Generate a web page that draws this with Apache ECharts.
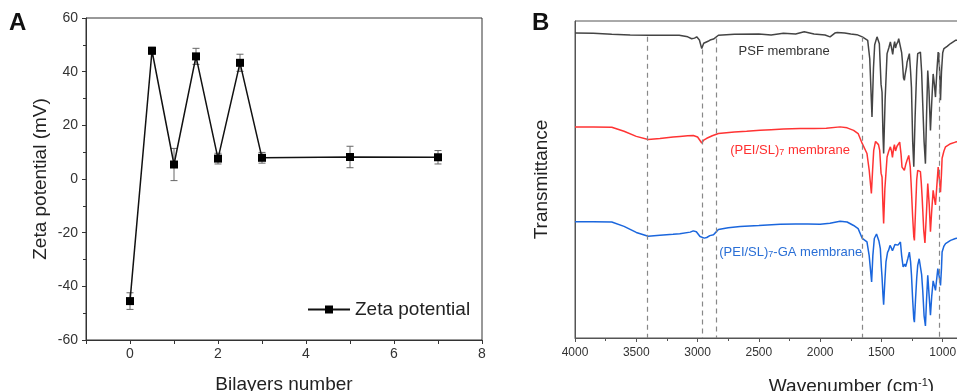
<!DOCTYPE html>
<html>
<head>
<meta charset="utf-8">
<script src="https://cdn.jsdelivr.net/npm/echarts@6/dist/echarts.min.js"></script>
<style>
    html, body { margin: 0; padding: 0; background: #fff; }
    #chart { width: 957px; height: 391px; }
</style>
</head>
<body>
<div id="chart"></div>
<script>
// ---- Panel A: zeta potential vs bilayer number ----
const bilayers = [0, 0.5, 1, 1.5, 2, 2.5, 3, 5, 7];
const zeta = [-45.5, 47.8, 5.4, 45.7, 7.6, 43.3, 7.9, 8.2, 8.1];
const zetaErr = [3.1, 1.3, 6, 3, 2, 3.2, 2, 4, 2.5];

// ---- Panel B: FTIR spectra, [wavenumber, transmittance (a.u.)] ----
const psfSpectrum = [
    [4000, 96.2], [3850, 96.1], [3700, 95.8], [3550, 95.6], [3400, 95.5], [3250, 95.5], [3150, 95.5],
    [3080, 95.0], [3048, 94.4], [3025, 94.6], [3007, 95.0], [2985, 94.0], [2966, 91.3], [2950, 93.0],
    [2939, 93.4], [2915, 93.6], [2898, 94.0], [2870, 94.3], [2857, 94.6], [2830, 95.5], [2700, 95.8],
    [2500, 95.9], [2400, 95.6], [2300, 96.1], [2200, 95.9], [2130, 96.6], [2050, 95.9], [1960, 95.6],
    [1919, 95.0], [1880, 96.2], [1860, 96.4], [1800, 96.2], [1750, 95.9], [1700, 95.7], [1656, 95.0],
    [1612, 93.9], [1595, 88], [1577, 69.7], [1565, 85], [1555, 92.5], [1536, 95.0], [1517, 92.8],
    [1503, 80], [1495, 77.6], [1488, 65], [1482, 58.2], [1470, 75], [1454, 89.7], [1440, 91.5],
    [1427, 93.4], [1415, 91], [1408, 89.5], [1400, 92], [1392, 93.5], [1385, 91.5], [1378, 92.5],
    [1365, 93.5], [1359, 94.4], [1345, 95.0], [1335, 90], [1329, 87.4], [1320, 82], [1313, 81.3],
    [1307, 83], [1302, 82.5], [1295, 85.5], [1291, 87], [1272, 89.7], [1262, 84], [1255, 79],
    [1245, 62], [1236, 54], [1225, 70], [1212, 85], [1204, 89.7], [1190, 90.3], [1182, 90.2],
    [1172, 84], [1163, 73.9], [1152, 62], [1141, 55], [1132, 70], [1122, 84.4], [1112, 78],
    [1100, 65.5], [1090, 74], [1078, 83.3], [1068, 80], [1059, 76], [1048, 84], [1037, 90.2],
    [1027, 86], [1018, 75], [1010, 84], [1000, 90], [990, 91.3], [964, 92], [936, 92.9],
    [896, 93.9], [870, 94]
];
const peiSpectrum = [
    [4000, 66.6], [3850, 66.6], [3700, 66.5], [3600, 65.2], [3500, 63.6], [3403, 62.6], [3307, 62.9],
    [3200, 63.4], [3145, 63.6], [3080, 63.8], [3035, 63.9], [3000, 63.4], [2980, 62.3], [2966, 61.5],
    [2950, 62.4], [2925, 63.0], [2880, 63.8], [2830, 64.5], [2700, 65.0], [2600, 65.2], [2490, 65.5],
    [2400, 65.7], [2300, 65.9], [2163, 66.1], [2050, 66.1], [1950, 66.2], [1837, 66.6], [1780, 66.3],
    [1727, 65.5], [1690, 64.5], [1656, 61.3], [1618, 58.2], [1600, 53], [1582, 45.6], [1572, 53],
    [1563, 59.2], [1548, 62.0], [1536, 62.4], [1524, 61], [1514, 59.2], [1503, 52], [1495, 50.8],
    [1488, 42], [1482, 36.1], [1472, 47], [1454, 57.1], [1440, 59], [1427, 60.3], [1418, 59],
    [1410, 57], [1400, 60], [1394, 61.0], [1385, 59], [1373, 60.5], [1362, 61], [1351, 61.8],
    [1340, 58], [1332, 53.9], [1320, 54], [1313, 52.9], [1300, 55], [1291, 56.1], [1277, 57.6],
    [1265, 54], [1258, 49], [1245, 38], [1236, 32], [1231, 30.8], [1222, 40], [1212, 50],
    [1204, 52.9], [1190, 53.5], [1182, 52.5], [1175, 49], [1168, 44.5], [1155, 34], [1145, 30],
    [1141, 29.8], [1132, 40], [1122, 48.7], [1110, 42], [1100, 33.5], [1090, 40], [1078, 46.6],
    [1068, 44], [1059, 42], [1048, 48], [1037, 53.9], [1027, 50], [1018, 46], [1010, 52],
    [1005, 56.7], [990, 59], [977, 60.3], [936, 61.3], [896, 61.8], [870, 62]
];
const gaSpectrum = [
    [4000, 36.7], [3850, 36.7], [3700, 36.6], [3600, 35.2], [3500, 33.3], [3403, 32.1], [3307, 32.4],
    [3200, 32.7], [3145, 32.9], [3060, 33.4], [3035, 33.8], [3010, 33.5], [3000, 33.2], [2980, 32.0],
    [2966, 31.4], [2945, 31.5], [2925, 31.7], [2900, 32.3], [2870, 32.6], [2850, 33.4], [2830, 34.2],
    [2750, 34.8], [2653, 35.2], [2500, 35.5], [2326, 35.9], [2200, 36.0], [2100, 36.0], [2000, 35.9],
    [1920, 36.2], [1837, 36.8], [1780, 36.6], [1727, 35.5], [1690, 34.5], [1656, 31.4], [1618, 30.3],
    [1600, 26], [1580, 17.7], [1570, 26], [1558, 31.4], [1540, 32.8], [1531, 32.6], [1520, 30.5],
    [1509, 28.2], [1500, 22], [1495, 19.2], [1488, 14], [1482, 10.5], [1472, 18], [1463, 24],
    [1450, 27], [1441, 27.7], [1430, 29.2], [1420, 28.5], [1410, 27.5], [1400, 28.5], [1390, 29.5],
    [1378, 29.8], [1365, 29.3], [1359, 29.2], [1345, 30.3], [1335, 26], [1323, 22.4], [1316, 23],
    [1310, 23.3], [1302, 22.5], [1296, 21.9], [1285, 25], [1272, 27.1], [1262, 24], [1255, 20],
    [1245, 12], [1236, 6], [1231, 5], [1222, 12], [1212, 19], [1204, 22.9], [1192, 25],
    [1182, 25], [1172, 20], [1163, 15], [1152, 7], [1141, 3.8], [1132, 12], [1122, 19.8],
    [1112, 14], [1100, 7.2], [1090, 13], [1078, 18], [1068, 16.5], [1059, 15], [1048, 19],
    [1040, 21.9], [1027, 19], [1018, 16.6], [1010, 22], [1005, 27.1], [990, 29], [977, 29.8],
    [936, 30.8], [896, 31.4], [870, 31.6]
];
// dashed band guides (wavenumber, top of the dash)
const bandLines = [3410, 2962, 2850, 1653, 1030];
const bandTops = [95, 91, 94.5, 95, 90];

const FONT = '"Liberation Sans", Arial, sans-serif';

const chart = echarts.init(document.getElementById('chart'), null, { renderer: 'canvas' });

const option = {
    animation: false,
    backgroundColor: '#fff',
    textStyle: { fontFamily: FONT },
    title: [
        { text: 'A', left: 9, top: 11, padding: 0, textStyle: { fontSize: 24, fontWeight: 'bold', color: '#111', fontFamily: FONT } },
        { text: 'B', left: 532, top: 11, padding: 0, textStyle: { fontSize: 24, fontWeight: 'bold', color: '#111', fontFamily: FONT } }
    ],
    legend: {
        data: ['Zeta potential'],
        left: 302, top: 295,
        itemWidth: 42, itemHeight: 10,
        textStyle: { fontSize: 19, color: '#222', fontFamily: FONT }
    },
    grid: [
        { left: 86, right: 475, top: 18, bottom: 51, show: true, borderColor: '#333', borderWidth: 1, outerBoundsMode: 'none', containLabel: false },
        { left: 575, right: -47, top: 21, bottom: 53, show: true, borderColor: '#555', borderWidth: 1, outerBoundsMode: 'none', containLabel: false }
    ],
    xAxis: [
        {
            type: 'value', gridIndex: 0, min: -1, max: 8, interval: 1,
            name: 'Bilayers number', nameLocation: 'middle', nameGap: 35,
            nameTextStyle: { fontSize: 19, color: '#222', fontFamily: FONT },
            axisLine: { show: true, onZero: false, lineStyle: { color: '#333', width: 1 } },
            axisTick: { show: true, inside: false, length: 4, lineStyle: { color: '#333' } },
            axisLabel: {
                fontSize: 14, color: '#333', margin: 7,
                formatter: v => (v >= 0 && v % 2 === 0) ? String(v) : ''
            },
            splitLine: { show: false }
        },
        {
            type: 'value', gridIndex: 1, inverse: true, min: 500, max: 4000, interval: 500,
            name: 'Wavenumber (cm{sup|-1})', nameLocation: 'middle', nameGap: 39,
            nameTextStyle: {
                fontSize: 19, color: '#222', fontFamily: FONT, padding: [0, 0, 0, 124],
                rich: { sup: { fontSize: 11, verticalAlign: 'top', color: '#222', fontFamily: FONT } }
            },
            axisLine: { show: true, onZero: false, lineStyle: { color: '#555', width: 1 } },
            axisTick: { show: true, inside: false, length: 4, lineStyle: { color: '#555' } },
            minorTick: { show: true, splitNumber: 2, length: 3, lineStyle: { color: '#555' } },
            axisLabel: { fontSize: 12, color: '#333', margin: 9, formatter: v => v >= 1000 ? String(v) : '' },
            splitLine: { show: false }
        }
    ],
    yAxis: [
        {
            type: 'value', gridIndex: 0, min: -60, max: 60, interval: 20,
            name: 'Zeta potential (mV)', nameLocation: 'middle', nameGap: 36,
            nameTextStyle: { fontSize: 19, color: '#222', fontFamily: FONT },
            axisLine: { show: true, onZero: false, lineStyle: { color: '#333', width: 1 } },
            axisTick: { show: true, inside: false, length: 4, lineStyle: { color: '#333' } },
            minorTick: { show: true, splitNumber: 2, length: 3, lineStyle: { color: '#333' } },
            axisLabel: { fontSize: 14, color: '#333', margin: 8 },
            splitLine: { show: false }
        },
        {
            type: 'value', gridIndex: 1, min: 0, max: 100,
            name: 'Transmittance', nameLocation: 'middle', nameGap: 24,
            nameTextStyle: { fontSize: 19, color: '#222', fontFamily: FONT },
            axisLine: { show: true, onZero: false, lineStyle: { color: '#555', width: 1 } },
            axisTick: { show: false },
            axisLabel: { show: false },
            splitLine: { show: false }
        }
    ],
    series: [
        {
            // error bars
            type: 'custom',
            xAxisIndex: 0, yAxisIndex: 0,
            z: 1,
            silent: true,
            data: bilayers.map((b, i) => [b, zeta[i] - zetaErr[i], zeta[i] + zetaErr[i]]),
            encode: { x: 0, y: [1, 2] },
            renderItem: function (params, api) {
                const lo = api.coord([api.value(0), api.value(1)]);
                const hi = api.coord([api.value(0), api.value(2)]);
                const w = 3.5;
                const style = { stroke: '#666', lineWidth: 1 };
                return {
                    type: 'group',
                    children: [
                        { type: 'line', shape: { x1: lo[0], y1: lo[1], x2: hi[0], y2: hi[1] }, style: style },
                        { type: 'line', shape: { x1: lo[0] - w, y1: lo[1], x2: lo[0] + w, y2: lo[1] }, style: style },
                        { type: 'line', shape: { x1: hi[0] - w, y1: hi[1], x2: hi[0] + w, y2: hi[1] }, style: style }
                    ]
                };
            }
        },
        {
            name: 'Zeta potential',
            type: 'line',
            xAxisIndex: 0, yAxisIndex: 0,
            z: 3,
            data: bilayers.map((b, i) => [b, zeta[i]]),
            symbol: 'rect', symbolSize: 8,
            lineStyle: { color: '#111', width: 1.5 },
            itemStyle: { color: '#000' }
        },
        {
            name: 'PSF membrane',
            type: 'line',
            xAxisIndex: 1, yAxisIndex: 1,
            data: psfSpectrum,
            showSymbol: false, symbol: 'none',
            lineStyle: { color: '#444', width: 1.5 },
            markLine: {
                silent: true,
                symbol: ['none', 'none'],
                label: { show: false },
                lineStyle: { color: '#888', type: [5, 4], width: 1.2 },
                data: bandLines.map((w, i) => [{ coord: [w, bandTops[i]] }, { coord: [w, 0] }])
            },
            markPoint: {
                silent: true, symbol: 'circle', symbolSize: 0,
                data: [{ coord: [2294, 90.5] }],
                label: { show: true, position: 'inside', formatter: 'PSF membrane', fontSize: 13, color: '#333', fontFamily: FONT }
            }
        },
        {
            name: '(PEI/SL)7 membrane',
            type: 'line',
            xAxisIndex: 1, yAxisIndex: 1,
            data: peiSpectrum,
            showSymbol: false, symbol: 'none',
            lineStyle: { color: '#ff3333', width: 1.5 },
            markPoint: {
                silent: true, symbol: 'circle', symbolSize: 0,
                data: [{ coord: [2245, 59.2] }],
                label: {
                    show: true, position: 'inside', formatter: '(PEI/SL){sub|7} membrane',
                    fontSize: 13, color: '#ff3030', fontFamily: FONT,
                    rich: { sub: { fontSize: 9, verticalAlign: 'bottom', color: '#ff3030', fontFamily: FONT } }
                }
            }
        },
        {
            name: '(PEI/SL)7-GA membrane',
            type: 'line',
            xAxisIndex: 1, yAxisIndex: 1,
            data: gaSpectrum,
            showSymbol: false, symbol: 'none',
            lineStyle: { color: '#1a66dd', width: 1.5 },
            markPoint: {
                silent: true, symbol: 'circle', symbolSize: 0,
                data: [{ coord: [2240, 27.1] }],
                label: {
                    show: true, position: 'inside', formatter: '(PEI/SL){sub|7}-GA membrane',
                    fontSize: 13, color: '#2a6fd6', fontFamily: FONT,
                    rich: { sub: { fontSize: 9, verticalAlign: 'bottom', color: '#2a6fd6', fontFamily: FONT } }
                }
            }
        }
    ]
};

chart.setOption(option);
</script>
</body>
</html>
